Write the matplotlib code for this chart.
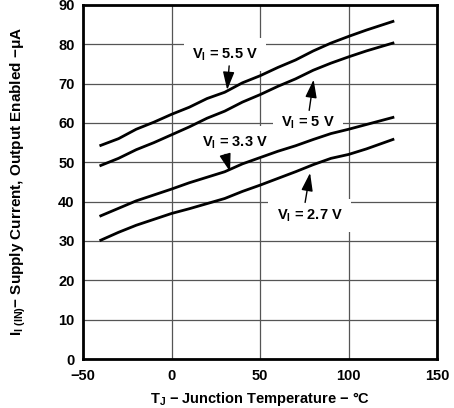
import matplotlib.pyplot as plt

plt.rcParams['font.family'] = ['Liberation Sans', 'DejaVu Sans']
plt.rcParams['font.weight'] = 'bold'
plt.rcParams['mathtext.fontset'] = 'custom'
plt.rcParams['mathtext.rm'] = 'Liberation Sans:bold'
plt.rcParams['mathtext.it'] = 'Liberation Sans:bold'
plt.rcParams['mathtext.bf'] = 'Liberation Sans:bold'

# Donnees
temp = [-40, -30, -20, -10, 0, 10, 20, 30, 40, 50, 60, 70, 80, 90, 100, 110, 125]
i_55 = [54.3, 56.0, 58.4, 60.2, 62.2, 64.0, 66.2, 67.8, 70.2, 72.0, 74.1, 76.0, 78.3, 80.3, 82.0, 83.6, 85.8]
i_50 = [49.2, 51.0, 53.2, 55.0, 57.0, 59.0, 61.2, 63.0, 65.3, 67.2, 69.3, 71.2, 73.4, 75.2, 76.8, 78.3, 80.3]
i_33 = [36.4, 38.3, 40.2, 41.7, 43.2, 44.8, 46.2, 47.6, 49.6, 51.2, 52.8, 54.2, 55.8, 57.3, 58.4, 59.6, 61.4]
i_27 = [30.2, 32.2, 34.0, 35.5, 37.0, 38.2, 39.5, 40.8, 42.6, 44.2, 45.9, 47.6, 49.4, 51.0, 52.0, 53.4, 55.8]
xticks = [-50, 0, 50, 100, 150]
yticks = [0, 10, 20, 30, 40, 50, 60, 70, 80, 90]

fig = plt.figure(figsize=(4.54, 4.08), dpi=100)
ax = fig.add_axes([0.183, 0.12, 0.780, 0.868])

for serie in [i_55, i_50, i_33, i_27]:
    ax.plot(temp, serie, color='black', lw=2.0, zorder=3)

ax.set_xlim(-50, 150)
ax.set_ylim(0, 90)
ax.set_xticks(xticks)
ax.set_yticks(yticks)
ax.set_xticklabels([str(t).replace('-', '\u2212') for t in xticks], fontweight='bold', fontsize=10.5)
ax.set_yticklabels([str(t) for t in yticks], fontweight='bold', fontsize=10.5)
ax.tick_params(axis='x', length=0, pad=7)
ax.tick_params(axis='y', length=0, pad=6)
ax.grid(True, color='#555555', lw=0.9)
for sp in ax.spines.values():
    sp.set_linewidth(2.0)

boite = dict(facecolor='white', edgecolor='none', pad=6)
fleche = dict(arrowstyle='-|>,head_length=1.1,head_width=0.35', color='black', lw=1.0, shrinkA=0, shrinkB=0)
style = dict(ha='center', va='center', fontsize=10.5, fontweight='bold', bbox=boite, zorder=2)

ax.text(30.2, 77.4, r'V$_\mathregular{I}$ = 5.5 V', **style)
ax.annotate('', xy=(31.4, 68.4), xytext=(32.5, 74.5), arrowprops=fleche, zorder=5)

ax.text(77.0, 60.0, r'V$_\mathregular{I}$ = 5 V', **style)
ax.annotate('', xy=(80.2, 71.0), xytext=(77.7, 63.2), arrowprops=fleche, zorder=5)

ax.text(36.0, 55.0, r'V$_\mathregular{I}$ = 3.3 V', **style)
ax.annotate('', xy=(33.0, 47.6), xytext=(30.2, 52.0), arrowprops=fleche, zorder=5)

ax.text(78.0, 36.4, r'V$_\mathregular{I}$ = 2.7 V', **style)
ax.annotate('', xy=(78.2, 47.3), xytext=(75.4, 39.8), arrowprops=fleche, zorder=5)

ax.set_xlabel(r'T$_\mathregular{J}$ $-$ Junction Temperature $-$ °C', fontsize=10.5, fontweight='bold', labelpad=5)
ax.set_ylabel(r'I$_\mathregular{I\ (IN)}$$-$ Supply Current, Output Enabled $-\mu$A', fontsize=11,
              fontweight='bold', labelpad=22)

fig.savefig('out.png', dpi=100)
